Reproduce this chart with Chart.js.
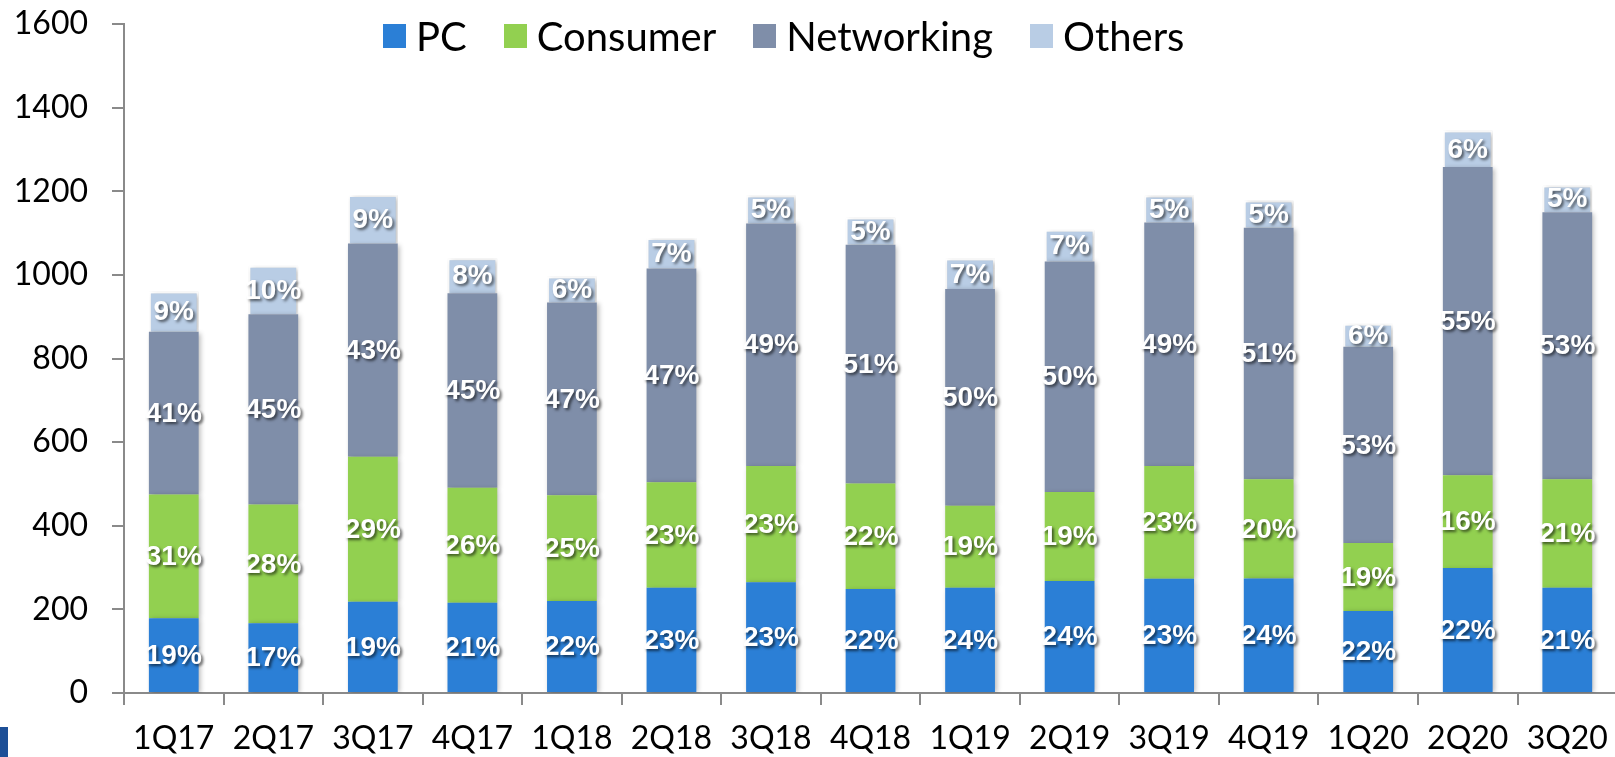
<!DOCTYPE html>
<html>
<head>
<meta charset="utf-8">
<script src="https://cdn.jsdelivr.net/npm/chart.js@4.4.1/dist/chart.umd.min.js"></script>
<style>
  html, body { margin: 0; padding: 0; background: #fff; overflow: hidden; }
  #wrap { position: absolute; left: 0; top: 0; width: 1622px; height: 757px; }
  #legend { position: absolute; left: 383px; top: 12px; display: flex; align-items: center;
            font-family: Lato, sans-serif; font-size: 40px; line-height: 48px; color: #000; }
  .item { display: flex; align-items: center; margin-right: 37px; }
  .box { width: 23px; height: 24px; margin-right: 10px; }
  #mark { position: absolute; left: 0; top: 727px; width: 8px; height: 30px; background: #1d4f97; }
</style>
</head>
<body>
<div id="wrap"><canvas id="chart"></canvas></div>
<div id="legend"></div>
<div id="mark"></div>
<script>
const quarters = ['1Q17', '2Q17', '3Q17', '4Q17', '1Q18', '2Q18', '3Q18', '4Q18',
                  '1Q19', '2Q19', '3Q19', '4Q19', '1Q20', '2Q20', '3Q20'];

const pcValues         = [179, 167, 218, 216, 220, 252, 265, 249, 252, 268, 273, 274, 196, 299, 252];
const consumerValues   = [296, 284, 347, 275, 253, 252, 278, 252, 196, 213, 270, 237, 163, 222, 259];
const networkingValues = [389, 455, 510, 465, 461, 511, 580, 571, 518, 551, 582, 602, 469, 737, 639];
const othersValues     = [ 96, 116, 116,  84,  62,  73,  67,  65,  73,  76,  65,  65,  55,  87,  64];

const pcShare         = ['19%', '17%', '19%', '21%', '22%', '23%', '23%', '22%', '24%', '24%', '23%', '24%', '22%', '22%', '21%'];
const consumerShare   = ['31%', '28%', '29%', '26%', '25%', '23%', '23%', '22%', '19%', '19%', '23%', '20%', '19%', '16%', '21%'];
const networkingShare = ['41%', '45%', '43%', '45%', '47%', '47%', '49%', '51%', '50%', '50%', '49%', '51%', '53%', '55%', '53%'];
const othersShare     = ['9%', '10%', '9%', '8%', '6%', '7%', '5%', '5%', '7%', '7%', '5%', '5%', '6%', '6%', '5%'];

const yTicks = [0, 200, 400, 600, 800, 1000, 1200, 1400, 1600];

const axisColor = '#8a8a8a';

const barShadow = {
  id: 'barShadow',
  beforeDatasetsDraw(chart) {
    const { ctx } = chart;
    ctx.save();
    ctx.shadowColor = 'rgba(0,0,0,0.28)';
    ctx.shadowBlur = 5;
    ctx.shadowOffsetX = 2;
    ctx.shadowOffsetY = 1;
  },
  afterDatasetsDraw(chart) {
    chart.ctx.restore();
  }
};

const segmentLabels = {
  id: 'segmentLabels',
  afterDatasetsDraw(chart) {
    const { ctx } = chart;
    ctx.save();
    ctx.font = 'bold 28px "Liberation Sans", Arial, sans-serif';
    ctx.fillStyle = '#fff';
    ctx.textAlign = 'center';
    ctx.textBaseline = 'middle';
    ctx.shadowColor = 'rgba(0,0,0,0.6)';
    ctx.shadowBlur = 3;
    ctx.shadowOffsetX = 2;
    ctx.shadowOffsetY = 2;
    chart.data.datasets.forEach((ds, i) => {
      chart.getDatasetMeta(i).data.forEach((bar, j) => {
        const { x, y, base } = bar.getProps(['x', 'y', 'base'], true);
        ctx.fillText(ds.shares[j], x, (y + base) / 2 + 1);
      });
    });
    ctx.restore();
  }
};

const chart = new Chart(document.getElementById('chart'), {
  type: 'bar',
  data: {
    labels: quarters,
    datasets: [
      { label: 'PC', data: pcValues, shares: pcShare, backgroundColor: '#2b7fd6' },
      { label: 'Consumer', data: consumerValues, shares: consumerShare, backgroundColor: '#92d050' },
      { label: 'Networking', data: networkingValues, shares: networkingShare, backgroundColor: '#7f8ea9' },
      { label: 'Others', data: othersValues, shares: othersShare, backgroundColor: '#b9cde5',
        borderColor: '#ffffff', borderWidth: 2 }
    ]
  },
  options: {
    responsive: true,
    maintainAspectRatio: false,
    animation: false,
    layout: { padding: { top: 0, right: 2, left: 0, bottom: 0 } },
    datasets: { bar: { categoryPercentage: 1, barPercentage: 0.5 } },
    plugins: {
      legend: { display: false },
      tooltip: { enabled: false }
    },
    scales: {
      x: {
        stacked: true,
        grid: { drawOnChartArea: false, tickLength: 12, color: axisColor, lineWidth: 2 },
        border: { color: axisColor, width: 2 },
        ticks: { color: '#000', font: { family: 'Lato', size: 32 }, padding: 14, maxRotation: 0, autoSkip: false },
        afterFit: (scale) => { scale.height = 64; }
      },
      y: {
        stacked: true,
        min: 0,
        max: 1600,
        afterBuildTicks: (scale) => { scale.ticks = yTicks.map(v => ({ value: v })); },
        grid: { drawOnChartArea: false, tickLength: 12, color: axisColor, lineWidth: 2 },
        border: { color: axisColor, width: 2 },
        ticks: { color: '#000', font: { family: 'Lato', size: 32 }, padding: 24, callback: (v) => String(v) },
        afterFit: (scale) => {
          scale.width = 124;
          scale.paddingTop = 24;
          scale.paddingBottom = 20;
        }
      }
    }
  },
  plugins: [barShadow, segmentLabels]
});

const legend = document.getElementById('legend');
chart.data.datasets.forEach(ds => {
  const item = document.createElement('div');
  item.className = 'item';
  const box = document.createElement('span');
  box.className = 'box';
  box.style.background = ds.backgroundColor;
  const text = document.createElement('span');
  text.textContent = ds.label;
  item.appendChild(box);
  item.appendChild(text);
  legend.appendChild(item);
});
</script>
</body>
</html>
